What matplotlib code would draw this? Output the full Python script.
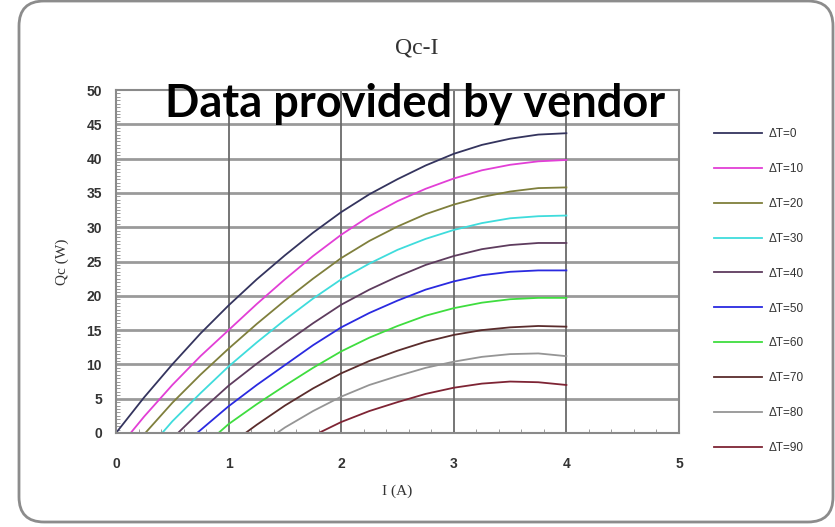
import numpy as np
import matplotlib.pyplot as plt
from matplotlib.patches import FancyBboxPatch
from matplotlib.ticker import MultipleLocator

# current (A) sample points and cooling power Qc (W)
dt_labels = ["ΔT=0", "ΔT=10", "ΔT=20", "ΔT=30", "ΔT=40",
             "ΔT=50", "ΔT=60", "ΔT=70", "ΔT=80", "ΔT=90"]

# each curve starts where Qc crosses zero, then every 0.25 A up to 4 A
start_current = [0.0, 0.13, 0.26, 0.41, 0.55, 0.72, 0.91, 1.15, 1.43, 1.80]
first_step = [0.25, 0.25, 0.5, 0.5, 0.75, 1.0, 1.0, 1.25, 1.5, 2.0]

qc = [
    [0.0, 5.2, 10.0, 14.5, 18.6, 22.4, 25.9, 29.2, 32.2, 34.8, 37.0, 39.0, 40.7, 42.0, 42.9, 43.5, 43.7],
    [0.0, 2.4, 7.0, 11.2, 15.0, 18.8, 22.4, 25.8, 28.9, 31.6, 33.8, 35.6, 37.1, 38.3, 39.1, 39.6, 39.8],
    [0.0, 4.4, 8.5, 12.3, 15.9, 19.3, 22.5, 25.5, 28.0, 30.1, 31.9, 33.3, 34.4, 35.2, 35.7, 35.8],
    [0.0, 1.7, 5.8, 9.7, 13.2, 16.5, 19.6, 22.4, 24.7, 26.7, 28.3, 29.6, 30.6, 31.3, 31.6, 31.7],
    [0.0, 3.2, 6.9, 10.1, 13.1, 16.0, 18.7, 20.9, 22.8, 24.5, 25.8, 26.8, 27.4, 27.7, 27.7],
    [0.0, 3.9, 7.0, 9.9, 12.8, 15.4, 17.5, 19.3, 20.9, 22.1, 23.0, 23.5, 23.7, 23.7],
    [0.0, 1.3, 4.2, 6.9, 9.5, 11.9, 13.9, 15.6, 17.1, 18.2, 19.0, 19.5, 19.7, 19.7],
    [0.0, 1.2, 4.0, 6.5, 8.7, 10.5, 12.0, 13.3, 14.3, 15.0, 15.4, 15.6, 15.5],
    [0.0, 0.8, 3.2, 5.3, 7.0, 8.3, 9.5, 10.4, 11.1, 11.5, 11.6, 11.2],
    [0.0, 1.6, 3.2, 4.5, 5.7, 6.6, 7.2, 7.5, 7.4, 7.0],
]

colors = ["#34345e", "#e23fd6", "#7f7f3c", "#3fdcdc", "#5e3c5e",
          "#2a2ae0", "#3fdd3f", "#5a2c2c", "#959595", "#7e2434"]

W, H = 835, 527
fig = plt.figure(figsize=(W / 100, H / 100), dpi=100)
fig.patch.set_facecolor("white")

# rounded outer frame of the screenshot
frame = FancyBboxPatch((19 / W, 5 / H), (833 - 19) / W, (526 - 5) / H,
                       boxstyle="round,pad=0,rounding_size=0.03",
                       transform=fig.transFigure, facecolor="none",
                       edgecolor="#8c8c8c", linewidth=2, mutation_aspect=W / H,
                       zorder=-1)
fig.patches.append(frame)

ax = fig.add_axes([116 / W, 1 - 433 / H, (679 - 116) / W, (433 - 90) / H])
ax.set_facecolor("white")

for i0, i1, y, c, lab in zip(start_current, first_step, qc, colors, dt_labels):
    x = [i0] + list(np.arange(i1, 4.001, 0.25))
    ax.plot(x, y, color=c, lw=1.3, label=lab, solid_joinstyle="round")

ax.set_xlim(0, 5)
ax.set_ylim(0, 50)
ax.xaxis.set_major_locator(MultipleLocator(1))
ax.yaxis.set_major_locator(MultipleLocator(5))
ax.xaxis.set_minor_locator(MultipleLocator(0.2))
ax.yaxis.set_minor_locator(MultipleLocator(0.5))

# grid: heavy light-gray horizontals, thinner dark verticals
for v in range(5, 50, 5):
    ax.axhline(v, color="#9a9a9a", lw=2.0, zorder=0)
for v in range(1, 5):
    ax.axvline(v, color="#6a6a6a", lw=1.3, zorder=0)

for s in ax.spines.values():
    s.set_color("#8a8a8a")
    s.set_linewidth(1.5)

ax.tick_params(which="major", length=0, labelsize=10, labelcolor="#333333")
ax.tick_params(axis="x", which="major", pad=17)
ax.tick_params(axis="y", which="major", pad=10)
ax.tick_params(which="minor", direction="in", length=3, color="#8a8a8a")
ax.tick_params(axis="x", which="minor", top=False)
ax.tick_params(axis="y", which="minor", right=False)
for lab in ax.get_xticklabels() + ax.get_yticklabels():
    lab.set_family("Liberation Sans")
    lab.set_fontweight("bold")

ax.set_xlabel("I (A)", family="Liberation Serif", fontsize=11, color="#333333", labelpad=10)
ax.set_ylabel("Qc (W)", family="Liberation Serif", fontsize=11, color="#333333", labelpad=13)

fig.text(417 / W, 1 - 48 / H, "Qc-I", family="Liberation Serif", fontsize=17,
         color="#333333", ha="center", va="center")

fig.text(415 / W, 1 - 104 / H, "Data provided by vendor", family="Lato",
         fontweight="bold", fontsize=32.5, color="black", ha="center", va="center")

leg = fig.legend(loc="upper left", bbox_to_anchor=(714 / W, 1 - 128 / H),
                 frameon=False, fontsize=8.5, handlelength=4.1, handletextpad=0.5,
                 labelspacing=1.94, borderpad=0, borderaxespad=0)
for t in leg.get_texts():
    t.set_family("Liberation Sans")
    t.set_color("#333333")

fig.savefig("out.png", dpi=100, facecolor="white")
